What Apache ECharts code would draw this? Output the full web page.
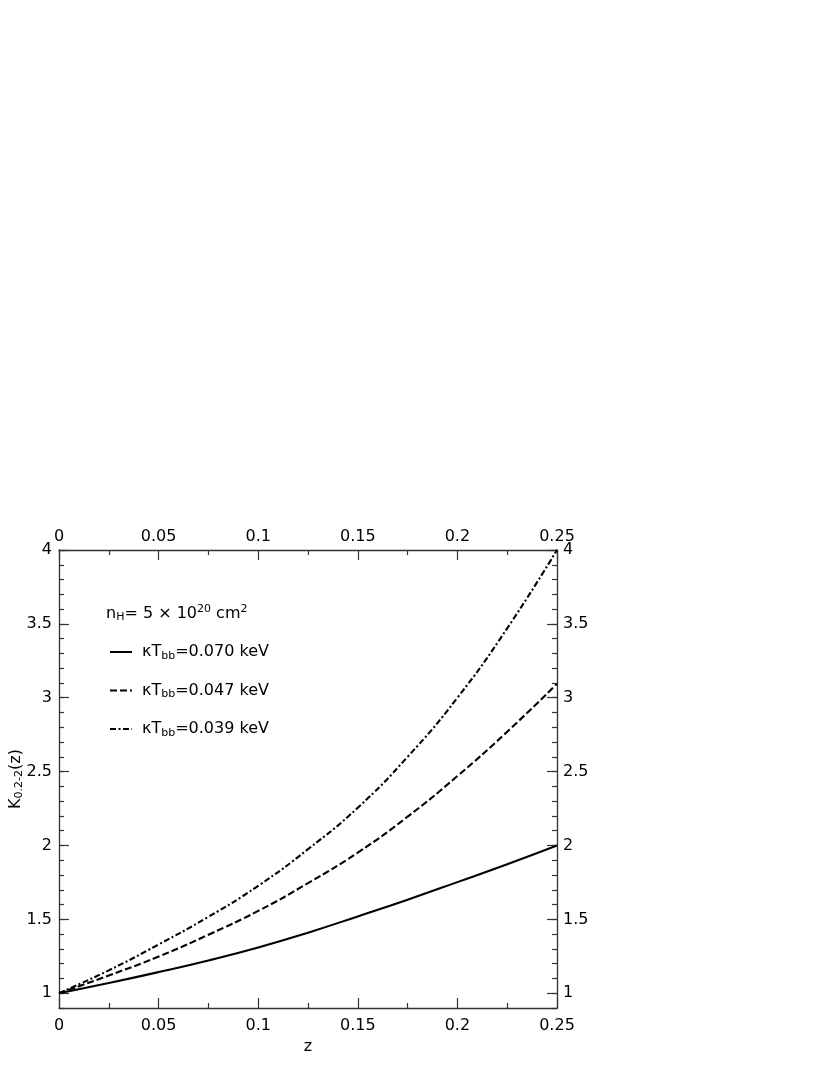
<!DOCTYPE html>
<html>
<head>
<meta charset="utf-8">
<script src="https://cdn.jsdelivr.net/npm/echarts@6/dist/echarts.min.js"></script>
<style>html,body{margin:0;padding:0;background:#fff}#c{width:830px;height:1075px}</style>
</head>
<body>
<div id="c"></div>
<script>
const zValues = [0, 0.025, 0.05, 0.075, 0.1, 0.125, 0.15, 0.175, 0.2, 0.225, 0.25];
const kT070 = [1, 1.069, 1.143, 1.222, 1.31, 1.41, 1.52, 1.633, 1.752, 1.873, 2.0];
const kT047 = [1, 1.12, 1.248, 1.396, 1.557, 1.745, 1.952, 2.195, 2.47, 2.77, 3.095];
const kT039 = [1, 1.155, 1.33, 1.517, 1.727, 1.975, 2.256, 2.6, 3.0, 3.47, 4.0];
const seriesNames = ['κT{s|bb}=0.070 keV', 'κT{s|bb}=0.047 keV', 'κT{s|bb}=0.039 keV'];
const xTicks = {min: 0, max: 0.25, interval: 0.05};
const yRange = {min: 0.9, max: 4, major: 0.5, minor: 0.1};

const FONT = 'DejaVu Sans';
const FS = 16;
const SFS = 11;
const AX = '#333';
const toPairs = arr => arr.map((v, i) => [zValues[i], v]);

const xBase = (pos, showName) => ({
  type: 'value', position: pos, offset: 0, min: xTicks.min, max: xTicks.max, interval: xTicks.interval,
  name: showName ? 'z' : '', nameLocation: 'middle', nameGap: 31, nameMoveOverlap: false,
  nameTextStyle: {fontFamily: FONT, fontSize: FS, color: '#000'},
  axisLine: {show: true, onZero: false, lineStyle: {color: AX, width: 1.3}},
  axisTick: {show: true, inside: true, length: 10, lineStyle: {color: AX, width: 1.2}},
  minorTick: {show: true, splitNumber: 2, length: 5, lineStyle: {color: AX, width: 1.2}},
  axisLabel: {show: true, margin: pos === 'bottom' ? 10 : 5, fontFamily: FONT, fontSize: FS, color: '#000'},
  splitLine: {show: false}, minorSplitLine: {show: false}
});
const yMajor = (pos, showName) => ({
  type: 'value', position: pos, offset: 0, min: yRange.min, max: yRange.max,
  minInterval: yRange.major, maxInterval: yRange.major,
  name: showName ? 'K{s|0.2-2}(z)' : '', nameLocation: 'middle', nameGap: 34, nameMoveOverlap: false,
  nameTextStyle: {fontFamily: FONT, fontSize: FS, color: '#000',
    rich: {s: {fontFamily: FONT, fontSize: SFS, color: '#000', padding: [8, 0, 0, 0]}}},
  axisLine: {show: true, onZero: false, lineStyle: {color: AX, width: 1.3}},
  axisTick: {show: true, inside: true, length: 10, lineStyle: {color: AX, width: 1.2}},
  axisLabel: {show: true, showMinLabel: false, margin: pos === 'left' ? 7 : 6, fontFamily: FONT, fontSize: FS, color: '#000'},
  splitLine: {show: false}
});
const yMinor = (pos) => ({
  type: 'value', position: pos, offset: 0, min: yRange.min, max: yRange.max, interval: yRange.minor,
  axisLine: {show: false, onZero: false},
  axisTick: {show: true, inside: true, length: 5, lineStyle: {color: AX, width: 1.2}},
  axisLabel: {show: false}, splitLine: {show: false}
});

const styles = [
  {type: 'solid'},
  {type: [7, 3]},
  {type: [6, 2.5, 2, 2.5]}
];
const dataSets = [kT070, kT047, kT039];

const chart = echarts.init(document.getElementById('c'), null, {renderer: 'canvas'});
chart.setOption({
  backgroundColor: '#fff',
  animation: false,
  title: {
    text: 'n{s|H}= 5 × 10{p|20} cm{p|2}', left: 106, top: 604, padding: 0,
    textStyle: {fontFamily: FONT, fontSize: FS, fontWeight: 'normal', color: '#000',
      rich: {
        s: {fontFamily: FONT, fontSize: SFS, color: '#000', padding: [8, 0, 0, 0]},
        p: {fontFamily: FONT, fontSize: SFS, color: '#000', padding: [0, 0, 8, 0]}
      }}
  },
  legend: {
    orient: 'vertical', left: 109, top: 644, padding: 0, itemWidth: 22, itemHeight: 14, itemGap: 21,
    selectedMode: false,
    itemStyle: {opacity: 0},
    data: seriesNames,
    textStyle: {fontFamily: FONT, fontSize: FS, color: '#000', padding: [0, 0, 0, 5],
      rich: {s: {fontFamily: FONT, fontSize: SFS, color: '#000', padding: [8, 0, 0, 0]}}}
  },
  grid: {left: 59, right: 273, top: 550, bottom: 67, containLabel: false, outerBoundsMode: 'none'},
  xAxis: [xBase('bottom', true), xBase('top', false)],
  yAxis: [yMajor('left', true), yMinor('left'), yMajor('right', false), yMinor('right')],
  series: dataSets.map((d, i) => ({
    name: seriesNames[i], type: 'line', xAxisIndex: 0, yAxisIndex: 0,
    data: toPairs(d), smooth: true, symbol: 'none', showSymbol: false,
    lineStyle: Object.assign({color: '#000', width: 2.1}, styles[i]),
    itemStyle: {color: '#000'}
  }))
});
</script>
</body>
</html>
